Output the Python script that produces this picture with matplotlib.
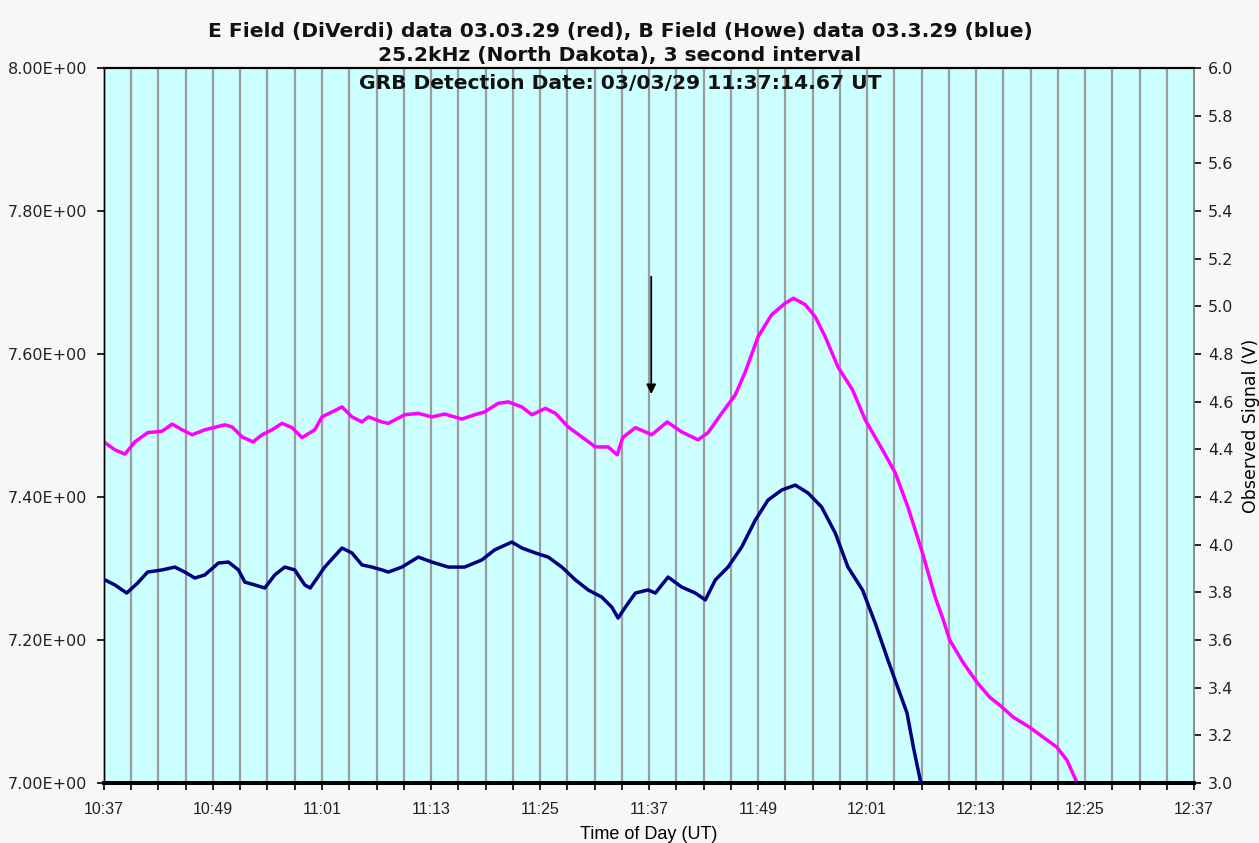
import matplotlib

matplotlib.use("Agg")
from matplotlib import pyplot as plt
from matplotlib.ticker import FixedLocator, MultipleLocator

plt.rcParams["font.family"] = ["DejaVu Sans"]
plt.rcParams["font.size"] = 11

# minutes after 10:37 UT
t_efield = [0.1, 1.2, 2.3, 3.4, 4.8, 6.4, 7.5, 8.6, 9.7, 11.1, 13.3, 14.1, 15.2, 16.4,
            17.4, 18.5, 19.6, 20.7, 21.8, 23.2, 24.0, 26.2, 27.3, 28.4, 29.1, 30.6,
            31.3, 33.1, 34.6, 36.1, 37.5, 39.4, 40.8, 41.9, 43.4, 44.5, 46.0, 47.1,
            48.6, 49.7, 51.1, 52.6, 54.1, 55.5, 56.5, 57.1, 58.5, 59.6, 60.3, 62.0,
            63.6, 65.4, 66.5, 68.0, 69.5, 70.6, 72.0, 73.5, 75.0, 75.9, 77.2, 78.3,
            79.4, 80.8, 82.4, 83.8, 85.7, 87.1, 88.5, 90.1, 91.5, 92.4, 93.1, 94.6,
            96.1, 97.5, 98.6, 100.1, 101.9, 103.4, 104.9, 106.0, 107.1]
e_field = [7.476, 7.466, 7.460, 7.477, 7.490, 7.492, 7.502, 7.494, 7.487, 7.494, 7.501,
           7.498, 7.484, 7.477, 7.487, 7.494, 7.503, 7.497, 7.483, 7.494, 7.512, 7.526,
           7.512, 7.505, 7.512, 7.505, 7.503, 7.515, 7.517, 7.512, 7.516, 7.509, 7.515,
           7.519, 7.531, 7.533, 7.526, 7.515, 7.524, 7.517, 7.498, 7.484, 7.470, 7.470,
           7.459, 7.483, 7.497, 7.491, 7.487, 7.505, 7.491, 7.480, 7.490, 7.517, 7.543,
           7.575, 7.624, 7.655, 7.671, 7.678, 7.669, 7.652, 7.624, 7.582, 7.550, 7.508,
           7.466, 7.434, 7.386, 7.322, 7.260, 7.228, 7.200, 7.168, 7.141, 7.120, 7.109,
           7.092, 7.078, 7.064, 7.050, 7.032, 7.001]

t_bfield = [0.1, 1.2, 2.5, 3.7, 4.8, 6.4, 7.8, 8.9, 10.0, 11.1, 12.6, 13.7, 14.8, 15.5,
            16.6, 17.7, 18.8, 19.9, 21.0, 22.1, 22.7, 24.3, 26.2, 27.3, 28.4, 29.5,
            30.6, 31.3, 32.8, 34.6, 36.1, 37.9, 39.7, 41.6, 43.0, 44.9, 46.0, 47.5,
            48.9, 50.4, 51.9, 53.3, 54.8, 55.9, 56.6, 57.4, 58.5, 59.9, 60.7, 62.1,
            63.6, 65.1, 66.2, 67.3, 68.7, 70.2, 71.7, 73.1, 74.6, 76.1, 77.5, 79.0,
            80.5, 81.9, 83.5, 84.9, 86.3, 87.6, 88.4, 89.1, 89.9]
b_field = [3.852, 3.831, 3.797, 3.839, 3.885, 3.894, 3.906, 3.885, 3.860, 3.873, 3.923,
           3.927, 3.894, 3.843, 3.831, 3.818, 3.873, 3.906, 3.894, 3.831, 3.818, 3.906,
           3.986, 3.965, 3.915, 3.906, 3.894, 3.885, 3.906, 3.948, 3.927, 3.906, 3.906,
           3.936, 3.978, 4.011, 3.986, 3.965, 3.948, 3.906, 3.852, 3.810, 3.780, 3.738,
           3.692, 3.738, 3.797, 3.810, 3.797, 3.864, 3.822, 3.797, 3.768, 3.852, 3.906,
           3.990, 4.103, 4.187, 4.229, 4.250, 4.217, 4.158, 4.049, 3.906, 3.810, 3.671,
           3.516, 3.378, 3.294, 3.151, 3.004]

x_ticks = [0, 12, 24, 36, 48, 60, 72, 84, 96, 108, 120]
x_labels = ["10:37", "10:49", "11:01", "11:13", "11:25", "11:37",
            "11:49", "12:01", "12:13", "12:25", "12:37"]
left_ticks = [7.0, 7.2, 7.4, 7.6, 7.8, 8.0]
right_ticks = [3.0, 3.2, 3.4, 3.6, 3.8, 4.0, 4.2, 4.4, 4.6, 4.8,
               5.0, 5.2, 5.4, 5.6, 5.8, 6.0]
grb_minute = 60 + 14.67 / 60  # 11:37:14.67 UT

fig = plt.figure(figsize=(12.59, 8.43), dpi=100, facecolor="#f7f7f7")
ax = fig.add_axes([0.0826, 0.0712, 0.8658, 0.8481])
ax.set_facecolor("#ccffff")

# vertical grid every 3 minutes
for m in range(3, 120, 3):
    ax.axvline(m, color="#9c9c9c", lw=1.6, zorder=1)

ax.plot(t_efield, e_field, color="#ff00ff", lw=2.5, zorder=3)
ax.set_xlim(0, 120)
ax.set_ylim(7.0, 8.0)

ax.xaxis.set_major_locator(FixedLocator(x_ticks))
ax.xaxis.set_minor_locator(MultipleLocator(3))
ax.set_xticks(x_ticks)
ax.set_xticklabels(x_labels, fontfamily="Liberation Sans", fontsize=11.5)
ax.set_yticks(left_ticks)
ax.set_yticklabels([f"{v:.2E}" for v in left_ticks])
ax.tick_params(axis="both", which="both", direction="out", length=5,
               width=1.2, colors="black", labelcolor="#222222")
ax.tick_params(axis="y", labelsize=11.5, pad=7)
ax.tick_params(axis="x", pad=9)

ax2 = ax.twinx()
ax2.plot(t_bfield, b_field, color="#000080", lw=2.5, zorder=3)
ax2.set_ylim(3.0, 6.0)
ax2.set_yticks(right_ticks)
ax2.set_yticklabels([f"{v:.1f}" for v in right_ticks])
ax2.tick_params(axis="y", direction="out", length=5, width=1.2,
                labelcolor="#222222", labelsize=11.5, pad=5)
ax2.set_ylabel("Observed Signal (V)", fontsize=12.5, labelpad=6)

for a in (ax, ax2):
    a.spines["left"].set_color("black")
    a.spines["left"].set_linewidth(1.0)
    a.spines["bottom"].set_color("black")
    a.spines["bottom"].set_linewidth(2.8)
    a.spines["top"].set_color("black")
    a.spines["top"].set_linewidth(1.5)
    a.spines["right"].set_color("#8a8a8a")
    a.spines["right"].set_linewidth(1.2)

ax.annotate("", xy=(grb_minute, 7.540), xytext=(grb_minute, 7.712),
            arrowprops=dict(arrowstyle="-|>", color="black", lw=1.3,
                            mutation_scale=14), zorder=5)

ax.set_xlabel("Time of Day (UT)", fontfamily="Liberation Sans", fontsize=13, labelpad=6)

title_x = 0.4925
fig.text(title_x, 0.963, "E Field (DiVerdi) data 03.03.29 (red), B Field (Howe) data 03.3.29 (blue)",
         ha="center", va="center", fontsize=14.6, fontweight="bold", color="#111111")
fig.text(title_x, 0.934, "25.2kHz (North Dakota), 3 second interval",
         ha="center", va="center", fontsize=14.6, fontweight="bold", color="#111111")
fig.text(title_x, 0.901, "GRB Detection Date: 03/03/29 11:37:14.67 UT",
         ha="center", va="center", fontsize=14.6, fontweight="bold", color="#111111",
         zorder=10)

fig.savefig("out.png", dpi=100, facecolor=fig.get_facecolor())
